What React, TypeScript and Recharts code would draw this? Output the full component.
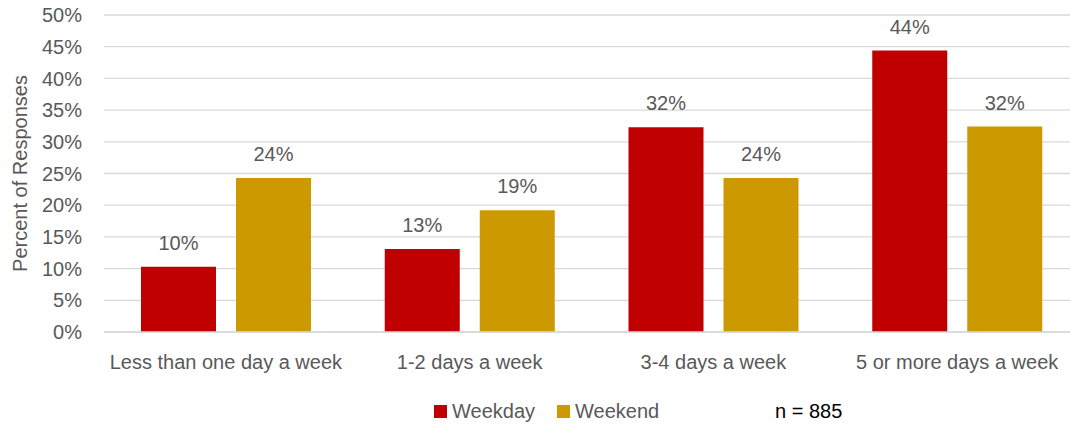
import React from 'react';
import {
  BarChart,
  Bar,
  XAxis,
  YAxis,
  CartesianGrid,
  LabelList,
  Label
} from 'recharts';

const categories = [
  'Less than one day a week',
  '1-2 days a week',
  '3-4 days a week',
  '5 or more days a week'
];
const weekday = [10.3, 13.1, 32.3, 44.4];
const weekend = [24.3, 19.2, 24.3, 32.4];
const weekdayLabels = ['10%', '13%', '32%', '44%'];
const weekendLabels = ['24%', '19%', '24%', '32%'];
const yTicks = [0, 5, 10, 15, 20, 25, 30, 35, 40, 45, 50];
const sampleNote = 'n = 885';

const RED = '#C00000';
const GOLD = '#CC9900';
const TEXT = '#595959';
const FONT = '"Liberation Sans", Arial, sans-serif';

const data = categories.map((name, i) => ({
  name,
  weekday: weekday[i],
  weekend: weekend[i],
  weekdayLabel: weekdayLabels[i],
  weekendLabel: weekendLabels[i]
}));

const LegendBox = () => (
  <div
    style={{
      position: 'absolute',
      left: 0,
      top: 399,
      width: 1070,
      height: 26,
      fontFamily: FONT,
      fontSize: 20,
      color: TEXT,
      lineHeight: '24px'
    }}
  >
    <div style={{ position: 'absolute', left: 434, top: 0, display: 'flex', alignItems: 'center' }}>
      <span style={{ width: 13, height: 13, background: RED, display: 'inline-block', marginRight: 5 }} />
      <span>Weekday</span>
      <span style={{ width: 13, height: 13, background: GOLD, display: 'inline-block', marginLeft: 22, marginRight: 5 }} />
      <span>Weekend</span>
    </div>
    <div style={{ position: 'absolute', left: 775, top: 0, color: '#000' }}>{sampleNote}</div>
  </div>
);

export default function App() {
  // the plot area in the original runs past the right edge of the picture
  return (
    <div
      style={{
        position: 'absolute',
        left: 0,
        top: 0,
        width: 1070,
        height: 427,
        overflow: 'hidden',
        background: '#fff'
      }}
    >
      <BarChart
        width={1080}
        height={427}
        data={data}
        margin={{ top: 15, right: 1, left: 0, bottom: 65 }}
        barGap={20}
        barSize={75}
        style={{ fontFamily: FONT }}
      >
        <CartesianGrid vertical={false} stroke="#d9d9d9" strokeWidth={1.3} />
        <XAxis
          dataKey="name"
          height={30}
          tickLine={false}
          axisLine={{ stroke: '#d9d9d9', strokeWidth: 1.3 }}
          tickSize={0}
          tickMargin={23}
          interval={0}
          tick={{ fill: TEXT, fontSize: 20 }}
        />
        <YAxis
          width={104}
          domain={[0, 50]}
          ticks={yTicks}
          tickFormatter={(v: number) => `${v}%`}
          tickLine={false}
          axisLine={false}
          tickSize={0}
          tickMargin={22}
          tick={{ fill: TEXT, fontSize: 20 }}
        >
          <Label
            content={({ viewBox }: any) => {
              const cx = viewBox.x + 20;
              const cy = viewBox.y + viewBox.height / 2;
              return (
                <text
                  x={cx}
                  y={cy}
                  transform={`rotate(-90 ${cx} ${cy})`}
                  textAnchor="middle"
                  dominantBaseline="central"
                  fill={TEXT}
                  fontSize={20}
                >
                  Percent of Responses
                </text>
              );
            }}
          />
        </YAxis>
        <Bar dataKey="weekday" name="Weekday" fill={RED} isAnimationActive={false}>
          <LabelList dataKey="weekdayLabel" position="top" offset={17} fill={TEXT} fontSize={20} />
        </Bar>
        <Bar dataKey="weekend" name="Weekend" fill={GOLD} isAnimationActive={false}>
          <LabelList dataKey="weekendLabel" position="top" offset={17} fill={TEXT} fontSize={20} />
        </Bar>
      </BarChart>
      <LegendBox />
    </div>
  );
}
